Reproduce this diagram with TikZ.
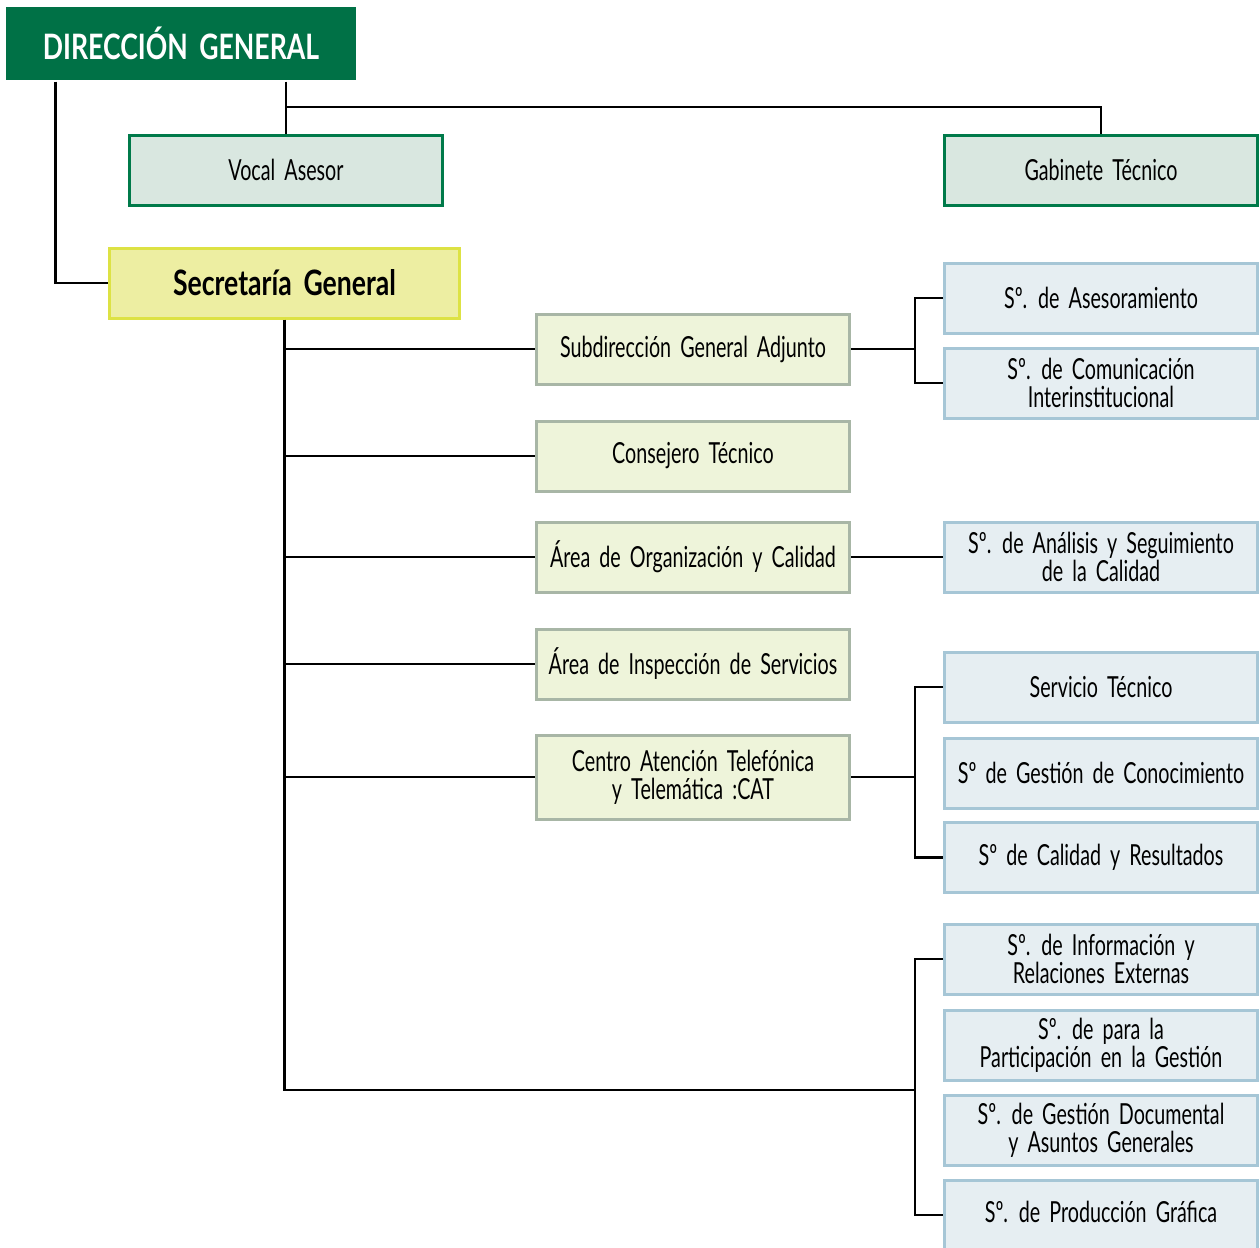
\documentclass[tikz,border=0pt]{standalone}
\usepackage{fontspec}
\setmainfont[FakeStretch=0.68, WordSpace=1.8, BoldFeatures={FakeStretch=0.76}]{Lato}
\definecolor{dgfill}{HTML}{007146}
\definecolor{gborder}{HTML}{007A4A}
\definecolor{gfill}{HTML}{D9E7E0}
\definecolor{sgfill}{HTML}{EDEEA2}
\definecolor{sgborder}{HTML}{DDE244}
\definecolor{midfill}{HTML}{EEF4DA}
\definecolor{midborder}{HTML}{A8B6A6}
\definecolor{rfill}{HTML}{E6EEF2}
\definecolor{rborder}{HTML}{A6C6D6}
\tikzset{
  box/.style={rectangle, align=center, inner sep=0pt, line width=3pt, font=\fontsize{29}{28}\selectfont},
  topbox/.style={box, fill=dgfill, draw=none, text=white, minimum width=350, minimum height=73, font=\fontsize{35}{36}\selectfont\bfseries},
  greenbox/.style={box, fill=gfill, draw=gborder, minimum width=313, minimum height=70},
  sgbox/.style={box, fill=sgfill, draw=sgborder, minimum width=350, minimum height=70, font=\fontsize{35}{34}\selectfont\bfseries},
  midbox/.style={box, fill=midfill, draw=midborder, minimum width=313, minimum height=70},
  rbox/.style={box, fill=rfill, draw=rborder, minimum width=313, minimum height=70},
  conn/.style={line width=2.6pt, black}
}
\begin{document}
\begin{tikzpicture}[x=1pt, y=-1pt]
\useasboundingbox (0,0) rectangle (1260,1247);
\clip (0,0) rectangle (1260,1247);
% nodes
\node[topbox] (dg) at (181,43.5) {DIRECCIÓN GENERAL};
\node[greenbox] (va) at (286,170) {Vocal Asesor};
\node[greenbox] (gt) at (1101,170) {Gabinete Técnico};
\node[sgbox] (sg) at (284.5,283) {Secretaría General};
\node[midbox] (sub) at (693,349) {Subdirección General Adjunto};
\node[midbox] (ct) at (693,456) {Consejero Técnico};
\node[midbox] (aoc) at (693,557) {Área de Organización y Calidad};
\node[midbox] (ais) at (693,664) {Área de Inspección de Servicios};
\node[midbox, minimum height=84] (cat) at (693,777) {Centro Atención Telefónica\\y Telemática :CAT};
\node[rbox] (ase) at (1101,298) {Sº. de Asesoramiento};
\node[rbox] (com) at (1101,383) {Sº. de Comunicación\\Interinstitucional};
\node[rbox] (ana) at (1101,557) {Sº. de Análisis y Seguimiento\\de la Calidad};
\node[rbox] (st) at (1101,687) {Servicio Técnico};
\node[rbox] (gc) at (1101,773) {Sº de Gestión de Conocimiento};
\node[rbox] (cr) at (1101,857.5) {Sº de Calidad y Resultados};
\node[rbox] (inf) at (1101,959) {Sº. de Información y\\Relaciones Externas};
\node[rbox] (par) at (1101,1045) {Sº. de para la\\Participación en la Gestión};
\node[rbox] (gd) at (1101,1130) {Sº. de Gestión Documental\\y Asuntos Generales};
\node[rbox, text height=20, text depth=6] (pg) at (1101,1215) {Sº. de Producción Gráfica};
% coordinates
\coordinate (j1) at (286,107);
\coordinate (bx) at (915,0);
\coordinate (sp) at (284.5,1090);
% connectors
\draw[conn] ([xshift=51pt]dg.south west) |- (sg.west);
\draw[conn] (va.north |- dg.south) -- (va.north);
\draw[conn] (j1) -| (gt.north);
\draw[conn] (sg.south) -- (sp) -- (sp -| bx);
\draw[conn] (sg.south |- sub.west) -- (sub.west);
\draw[conn] (sg.south |- ct.west) -- (ct.west);
\draw[conn] (sg.south |- aoc.west) -- (aoc.west);
\draw[conn] (sg.south |- ais.west) -- (ais.west);
\draw[conn] (sg.south |- cat.west) -- (cat.west);
\draw[conn] (sub.east) -- (sub.east -| bx);
\draw[conn] (ase.west) -| (bx |- com.west) -- (com.west);
\draw[conn] (aoc.east) -- (ana.west);
\draw[conn] (cat.east) -- (cat.east -| bx);
\draw[conn] (st.west) -| (bx |- cr.west) -- (cr.west);
\draw[conn] (inf.west) -| (bx |- pg.west) -- (pg.west);
\end{tikzpicture}
\end{document}
